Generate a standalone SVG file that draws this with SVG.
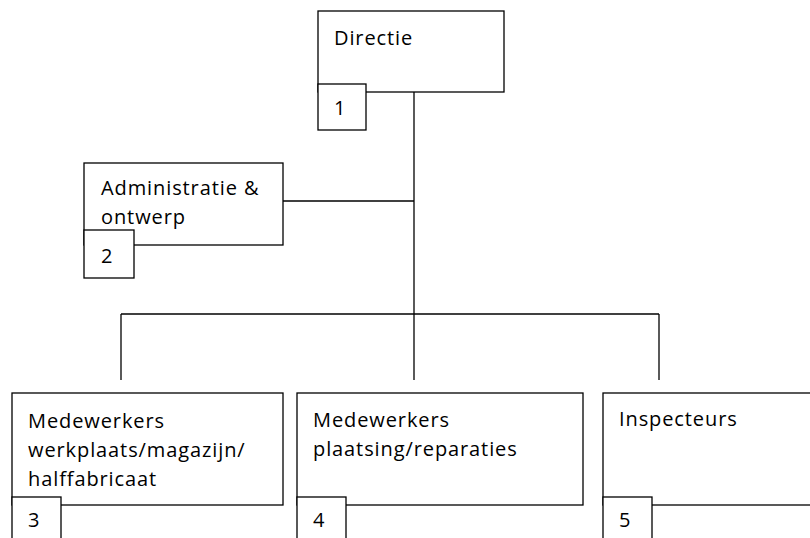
<svg xmlns="http://www.w3.org/2000/svg" width="810" height="538" viewBox="0 0 810 538">
<style>
rect{fill:#fff;stroke:#000;stroke-width:1.3}
line{stroke:#000;stroke-width:1.3}
text{font-family:"Open Sans","DejaVu Sans",sans-serif;font-size:20px;letter-spacing:0.9px;fill:#000}
</style>
<rect x="0" y="0" width="810" height="538" style="stroke:none"/>
<g id="connectors">
<line x1="414" y1="92" x2="414" y2="314"/>
<line x1="283" y1="201" x2="414" y2="201"/>
<line x1="121" y1="314" x2="659" y2="314"/>
<line x1="121" y1="314" x2="121" y2="380"/>
<line x1="414" y1="314" x2="414" y2="380"/>
<line x1="659" y1="314" x2="659" y2="380"/>
</g>
<g id="n1">
<rect x="318" y="11" width="186" height="81"/>
<rect x="318" y="84" width="48" height="46"/>
<text x="334" y="45">Directie</text>
<text x="334" y="115">1</text>
</g>
<g id="n2">
<rect x="84" y="163" width="199" height="82"/>
<rect x="84" y="230" width="50" height="48"/>
<text x="101" y="195">Administratie &amp;</text>
<text x="101" y="224">ontwerp</text>
<text x="101" y="263">2</text>
</g>
<g id="n3">
<rect x="12" y="393" width="271" height="112"/>
<rect x="12" y="497" width="49" height="50"/>
<text x="28" y="428">Medewerkers</text>
<text x="28" y="457">werkplaats/magazijn/</text>
<text x="28" y="486">halffabricaat</text>
<text x="28" y="527">3</text>
</g>
<g id="n4">
<rect x="297" y="393" width="286" height="112"/>
<rect x="297" y="497" width="49" height="50"/>
<text x="313" y="427">Medewerkers</text>
<text x="313" y="456">plaatsing/reparaties</text>
<text x="313" y="527">4</text>
</g>
<g id="n5">
<rect x="603" y="393" width="220" height="112"/>
<rect x="603" y="497" width="49" height="50"/>
<text x="619" y="426">Inspecteurs</text>
<text x="619" y="527">5</text>
</g>
</svg>
